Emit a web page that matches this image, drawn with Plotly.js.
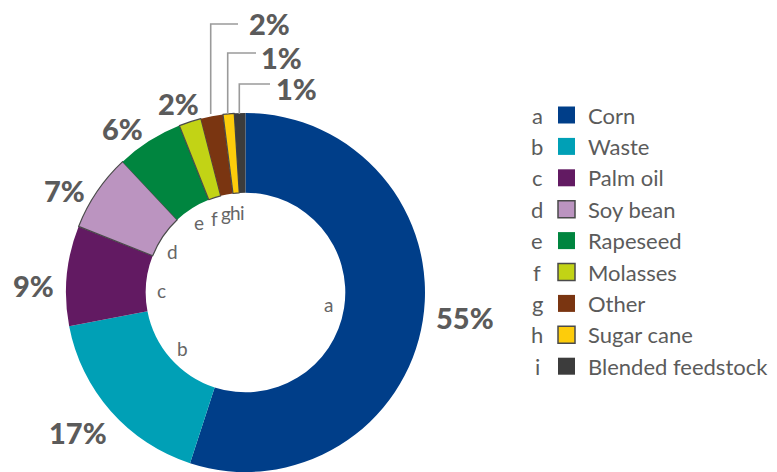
<!DOCTYPE html>
<html>
<head>
<meta charset="utf-8">
<script src="https://cdn.plot.ly/plotly-3.0.1.min.js"></script>
<style>
  html, body { margin: 0; padding: 0; background: #fff; overflow: hidden; }
  #chart { width: 777px; height: 472px; }
</style>
</head>
<body>
<div id="chart"></div>
<script>
// ---- data ----
const categories = ["Corn", "Waste", "Palm oil", "Soy bean", "Rapeseed", "Molasses", "Other", "Sugar cane", "Blended feedstock"];
const letters = ["a", "b", "c", "d", "e", "f", "g", "h", "i"];
const shares = [55, 17, 9, 7, 6, 2, 2, 1, 1];
const colors = ["#003e89", "#00a0b6", "#621a62", "#bb94c0", "#00853f", "#c2d315", "#7a3511", "#fdcc0b", "#3c3c3c"];
const outlined = [false, false, false, true, false, true, false, true, false];

// ---- layout helpers (pixel -> paper) ----
const W = 777, H = 472;
const px = x => x / W;
const py = y => 1 - y / H;
const cx = 245.5, cy = 292.5, R = 179.5;

// letter positions inside the hole (pixels)
const letterPos = [[328, 304], [182, 348], [161, 290], [172, 251], [199, 222], [214, 218], [226, 213], [235, 212], [242, 212]];
// percentage label positions (pixels), one per slice
const labelPos = [[465, 317], [78, 432], [33, 285], [64, 190], [122, 128], [178, 103], [269, 23], [281, 57], [296, 88]];
// leader lines for the small top slices: [xVertical, yTop, xEnd]
const leaders = [[210.7, 24, 238], [227.7, 53, 256], [239.3, 84, 270]];

const trace = {
  type: "pie",
  labels: categories,
  values: shares,
  sort: false,
  direction: "clockwise",
  rotation: 0,
  hole: 0.556,
  textinfo: "none",
  hoverinfo: "label+percent",
  marker: {
    colors: colors,
    line: {
      color: outlined.map(o => o ? "#4a4a4a" : "rgba(0,0,0,0)"),
      width: outlined.map(o => o ? 1.2 : 0)
    }
  },
  domain: { x: [px(cx - R), px(cx + R)], y: [0, py(cy - R)] },
  showlegend: false
};

const annotations = [];
const shapes = [];
const FONT = "Lato, 'Open Sans', sans-serif";

// letters inside the hole
letters.forEach((l, i) => {
  annotations.push({
    xref: "paper", yref: "paper", x: px(letterPos[i][0]), y: py(letterPos[i][1]),
    text: l, showarrow: false, xanchor: "center", yanchor: "middle",
    font: { family: FONT, size: 19, color: "#666666" }
  });
});

// percentage labels
shares.forEach((v, i) => {
  annotations.push({
    xref: "paper", yref: "paper", x: px(labelPos[i][0]), y: py(labelPos[i][1]),
    text: v + "%", showarrow: false, xanchor: "center", yanchor: "middle",
    height: 28, valign: "middle",
    font: { family: FONT, size: 29, color: "#5b5b5b", weight: 900 }
  });
});

// leader lines
leaders.forEach(([xv, yt, xe]) => {
  shapes.push({
    type: "path", xref: "paper", yref: "paper",
    path: `M ${px(xv)} ${py(cy - R + 1)} L ${px(xv)} ${py(yt)} L ${px(xe)} ${py(yt)}`,
    line: { color: "#9a9a9a", width: 1.6 }
  });
});

// custom legend
const legY0 = 115, legDy = 31.4;
categories.forEach((c, i) => {
  const y = legY0 + i * legDy;
  annotations.push({
    xref: "paper", yref: "paper", x: px(537), y: py(y),
    text: letters[i], showarrow: false, xanchor: "center", yanchor: "middle",
    font: { family: FONT, size: 22, color: "#5b5b5b" }
  });
  shapes.push({
    type: "rect", xref: "paper", yref: "paper",
    x0: px(558), x1: px(575), y0: py(y - 8.5), y1: py(y + 8.5),
    fillcolor: colors[i],
    line: { color: outlined[i] ? "#4a4a4a" : colors[i], width: outlined[i] ? 1.5 : 0 }
  });
  annotations.push({
    xref: "paper", yref: "paper", x: px(586), y: py(y),
    text: c, showarrow: false, xanchor: "left", yanchor: "middle",
    font: { family: FONT, size: 22, color: "#5b5b5b" }
  });
});

const layout = {
  width: W, height: H,
  margin: { l: 0, r: 0, t: 0, b: 0, pad: 0 },
  paper_bgcolor: "#ffffff",
  plot_bgcolor: "#ffffff",
  showlegend: false,
  annotations: annotations,
  shapes: shapes
};

Plotly.newPlot("chart", [trace], layout, { displayModeBar: false, staticPlot: true });
</script>
</body>
</html>
